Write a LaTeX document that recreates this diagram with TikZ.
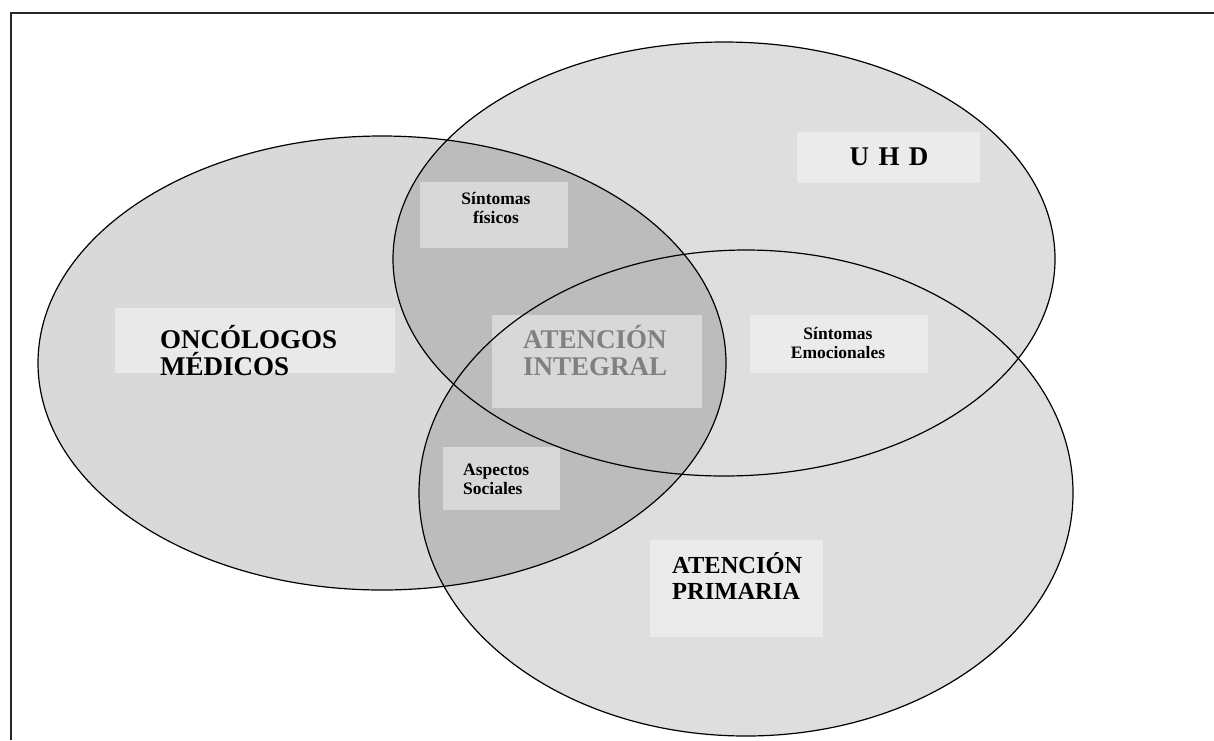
\documentclass[tikz,border=0pt]{standalone}
\usepackage{fontspec}
\setmainfont{Liberation Serif}
\begin{document}
\begin{tikzpicture}[x=1pt,y=-1pt,
  lite/.style={fill=black!13},
  venn/.style={fill=black,fill opacity=0.15},
  vline/.style={draw=black,line width=1.2pt},
  lbox/.style={fill=white,fill opacity=0.42,draw=none},
  big/.style={font=\fontsize{27}{27}\selectfont\bfseries,align=left,inner sep=0pt},
  small/.style={font=\fontsize{17.5}{19}\selectfont\bfseries,inner sep=0pt},
]
\useasboundingbox (0,0) rectangle (1214,740);
% frame
\draw[line width=2pt,draw=black!85] (11,740) -- (11,13) -- (1214,13);
% ellipse fills
\fill[lite] (724,259) ellipse [x radius=331pt, y radius=217pt];
\fill[lite] (746,493) ellipse [x radius=327pt, y radius=243pt];
\fill[venn] (382,363) ellipse [x radius=344pt, y radius=227pt];
% label boxes
\fill[lbox] (420,182) rectangle (568,248);
\fill[lbox] (115,308) rectangle (395,373);
\fill[lbox] (492,315) rectangle (702,408);
\fill[lbox] (750,315) rectangle (928,373);
\fill[lbox] (443,447) rectangle (560,510);
\fill[lbox] (650,540) rectangle (823,637);
\fill[lbox] (797,132) rectangle (980,183);
% ellipse outlines
\draw[vline] (382,363) ellipse [x radius=344pt, y radius=227pt];
\draw[vline] (724,259) ellipse [x radius=331pt, y radius=217pt];
\draw[vline] (746,493) ellipse [x radius=327pt, y radius=243pt];
% texts
\node[big,anchor=west] (onc) at (160,351) {ONCÓLOGOS\\MÉDICOS};
\node[big,anchor=west,text=black!50] (integ) at (523,351) {ATENCIÓN\\INTEGRAL};
\node[big,anchor=west,font=\fontsize{24.5}{26}\selectfont\bfseries] (prim) at (672,576) {ATENCIÓN\\PRIMARIA};
\node[big,anchor=center,font=\fontsize{27}{27}\selectfont\bfseries] (uhd) at (889,157) {U\hspace{0.35em}H\hspace{0.35em}D};
\node[small,align=center] (fis) at (496,208) {Síntomas\\físicos};
\node[small,align=center] (emo) at (838,343) {Síntomas\\Emocionales};
\node[small,align=left,anchor=west] (soc) at (463,479) {Aspectos\\Sociales};
\end{tikzpicture}
\end{document}
